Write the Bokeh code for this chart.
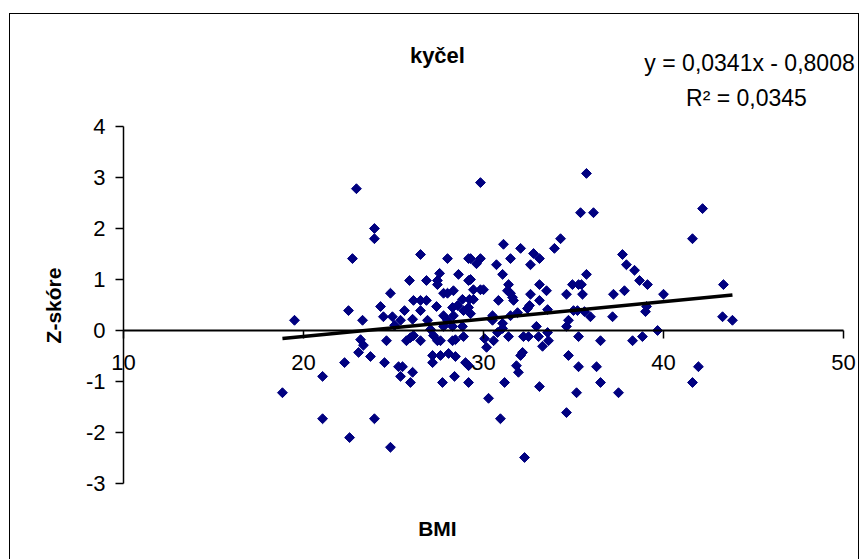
import numpy as np
from bokeh.plotting import figure
from bokeh.models import LinearAxis, FixedTicker, Label, ColumnDataSource
from bokeh.embed import file_html
from bokeh.resources import INLINE

# ---- data ----
bmi = [18.83, 19.50, 21.06, 21.06, 22.56, 22.28, 22.50, 22.72, 22.94, 23.28,
       23.17, 23.33, 23.06, 23.72, 23.94, 23.94, 23.94, 24.83, 24.28, 24.44,
       24.94, 24.83, 25.06, 24.61, 24.50, 25.28, 25.50, 25.39, 26.06, 25.94,
       25.39, 25.61, 26.06, 25.89, 26.50, 26.83, 26.11, 26.50, 26.83, 26.50,
       25.72, 25.94, 26.11, 26.50, 26.89, 27.06, 27.22, 27.44, 27.17, 27.17,
       27.61, 27.72, 27.39, 27.56, 27.44, 27.44, 28.00, 27.78, 28.00, 28.33,
       27.78, 28.33, 28.28, 28.56, 28.89, 29.17, 27.78, 28.28, 28.83, 28.00,
       27.61, 28.28, 28.44, 28.89, 28.06, 28.44, 29.00, 29.17, 28.39, 29.17,
       28.83, 29.17, 28.61, 29.17, 29.22, 29.44, 29.28, 29.28, 29.44, 29.83,
       30.00, 29.28, 29.83, 29.61, 29.83, 30.72, 31.50, 31.11, 32.06, 32.78,
       33.11, 32.61, 31.06, 31.39, 31.33, 31.50, 31.61, 31.67, 33.11, 33.50,
       32.61, 30.83, 33.11, 30.50, 30.50, 31.06, 31.06, 31.50, 31.89, 32.44,
       32.56, 33.56, 32.94, 33.56, 30.78, 30.06, 30.17, 30.56, 31.39, 32.22,
       32.50, 33.06, 33.61, 33.28, 32.06, 32.17, 31.83, 31.94, 31.17, 33.11,
       30.28, 30.94, 32.28, 34.61, 34.72, 34.72, 35.28, 35.28, 35.17, 34.61,
       36.28, 36.50, 36.50, 37.50, 38.28, 38.83, 39.67, 41.94, 41.61, 43.83,
       43.28, 43.33, 42.17, 41.61, 35.72, 35.39, 36.11, 34.28, 33.94, 37.72,
       37.94, 38.39, 38.67, 39.11, 35.72, 34.94, 35.28, 35.44, 34.61, 35.50,
       37.22, 37.83, 40.00, 35.00, 35.22, 35.61, 35.94, 37.17, 39.06, 39.00]
zscore = [-1.22, 0.20, -0.90, -1.73, -2.10, -0.63, 0.39, 1.41, 2.78, 0.20,
          -0.18, -0.29, -0.43, -0.51, 2.00, 1.80, -1.73, -2.29, 0.47, 0.27,
          0.27, 0.73, 0.10, -0.20, -0.63, -0.71, -0.71, -0.90, -0.82, -1.02,
          0.20, 0.39, 0.22, 0.98, 1.49, 0.98, 0.59, 0.59, 0.59, 0.39,
          -0.20, -0.14, -0.10, -0.20, 0.20, 0.02, -0.10, -0.20, -0.49, -0.63,
          -0.49, -1.02, 0.47, 1.12, 0.98, 0.90, 1.41, 0.73, 0.73, 0.78,
          0.29, 0.29, 0.45, 0.49, 0.39, 0.45, 0.08, 0.08, 0.08, 0.20,
          -0.20, -0.20, -0.18, -0.12, -0.45, -0.51, -0.63, -0.69, -0.90, -1.02,
          0.61, 0.98, 1.10, 1.41, 0.61, 0.61, 0.33, 1.00, 0.80, 0.80,
          0.80, 1.41, 1.41, 1.31, 2.90, 1.29, 1.41, 1.69, 1.61, 1.51,
          1.41, 1.29, 1.10, 0.90, 0.78, 0.73, 0.65, 0.59, 0.90, 0.78,
          0.71, 0.59, 0.59, 0.29, 0.20, 0.14, 0.04, 0.29, 0.35, 0.43,
          0.49, 0.41, 0.08, -0.04, -0.04, -0.16, -0.33, -0.20, -0.12, -0.12,
          -0.12, -0.12, -0.20, -0.31, -0.49, -0.43, -0.69, -0.82, -1.02, -1.10,
          -1.33, -1.73, -2.49, 0.08, 0.20, -0.49, -0.12, -0.71, -1.22, -1.61,
          -0.71, -0.20, -1.02, -1.22, -0.20, -0.12, 0.00, -0.71, -1.02, 0.20,
          0.27, 0.90, 2.39, 1.80, 3.08, 2.31, 2.31, 1.80, 1.61, 1.49,
          1.29, 1.18, 0.98, 0.90, 1.10, 0.90, 0.90, 0.90, 0.71, 0.71,
          0.71, 0.78, 0.71, 0.39, 0.39, 0.37, 0.27, 0.27, 0.47, 0.37]

trend_slope = 0.0341
trend_intercept = -0.8008
x_ticks = [10, 20, 30, 40, 50]
y_ticks = [-3, -2, -1, 0, 1, 2, 3, 4]
title_text = "kyčel"
x_label = "BMI"
y_label = "Z-skóre"
eq_text = "y = 0,0341x - 0,8008"
r2_text = "R² = 0,0345"

FONT = "Liberation Sans"
NAVY = "#000080"

# frame covers the whole chart area; axes are placed at fixed data locations
p = figure(width=850, height=546, x_range=(3.722, 50.944), y_range=(-4.510, 6.196),
           output_backend="svg", toolbar_location=None,
           x_axis_type=None, y_axis_type=None,
           min_border_left=0, min_border_right=0,
           min_border_top=0, min_border_bottom=0)
p.outline_line_color = None
p.background_fill_color = "white"
p.border_fill_color = "white"
p.margin = (13, 0, 0, 9)
p.styles = {"border-left": "1px solid black", "border-top": "1px solid black",
            "border-right": "1px solid black"}

yaxis = LinearAxis(ticker=FixedTicker(ticks=y_ticks), fixed_location=x_ticks[0],
                   bounds=(y_ticks[0], y_ticks[-1]))
yaxis.major_tick_out = 8
yaxis.major_tick_in = 0
yaxis.minor_tick_out = 0
yaxis.minor_tick_in = 0
yaxis.axis_line_color = "black"
yaxis.axis_line_width = 1.5
yaxis.major_tick_line_width = 1.5
yaxis.major_label_standoff = 10
yaxis.major_label_text_font = FONT
yaxis.major_label_text_font_size = "22px"
yaxis.major_label_text_color = "black"
yaxis.major_label_overrides = {t: str(t) for t in y_ticks}
p.add_layout(yaxis, "left")

xaxis = LinearAxis(ticker=FixedTicker(ticks=x_ticks), fixed_location=0,
                   bounds=(x_ticks[0], x_ticks[-1]))
xaxis.major_tick_out = 8
xaxis.major_tick_in = 0
xaxis.minor_tick_out = 0
xaxis.minor_tick_in = 0
xaxis.axis_line_color = "black"
xaxis.axis_line_width = 2
xaxis.major_tick_line_width = 1.5
xaxis.major_label_standoff = 17
xaxis.major_label_text_font = FONT
xaxis.major_label_text_font_size = "22px"
xaxis.major_label_text_color = "black"
xaxis.major_label_overrides = {t: str(t) for t in x_ticks}
p.add_layout(xaxis, "below")

src = ColumnDataSource(dict(x=bmi, y=zscore))
p.scatter("x", "y", source=src, marker="square", angle=np.pi / 4, size=7,
          fill_color=NAVY, line_color=NAVY)

xmin, xmax = min(bmi), max(bmi)
p.line([xmin, xmax], [trend_slope * xmin + trend_intercept, trend_slope * xmax + trend_intercept],
       line_color="black", line_width=3.5)

p.add_layout(Label(x=27.44, y=5.39, text=title_text, text_align="center", text_baseline="middle",
                   text_font=FONT, text_font_size="22px", text_font_style="bold", text_color="black"))
p.add_layout(Label(x=27.44, y=-3.88, text=x_label, text_align="center", text_baseline="middle",
                   text_font=FONT, text_font_size="21px", text_font_style="bold", text_color="black"))
p.add_layout(Label(x=6.11, y=0.49, text=y_label, angle=np.pi / 2, text_align="center",
                   text_baseline="middle", text_font=FONT, text_font_size="21px",
                   text_font_style="bold", text_color="black"))
p.add_layout(Label(x=44.78, y=5.25, text=eq_text, text_align="center", text_baseline="middle",
                   text_font=FONT, text_font_size="23px", text_color="black"))
p.add_layout(Label(x=44.61, y=4.55, text=r2_text, text_align="center", text_baseline="middle",
                   text_font=FONT, text_font_size="23px", text_color="black"))

open("out.html", "w").write(file_html(p, INLINE))
